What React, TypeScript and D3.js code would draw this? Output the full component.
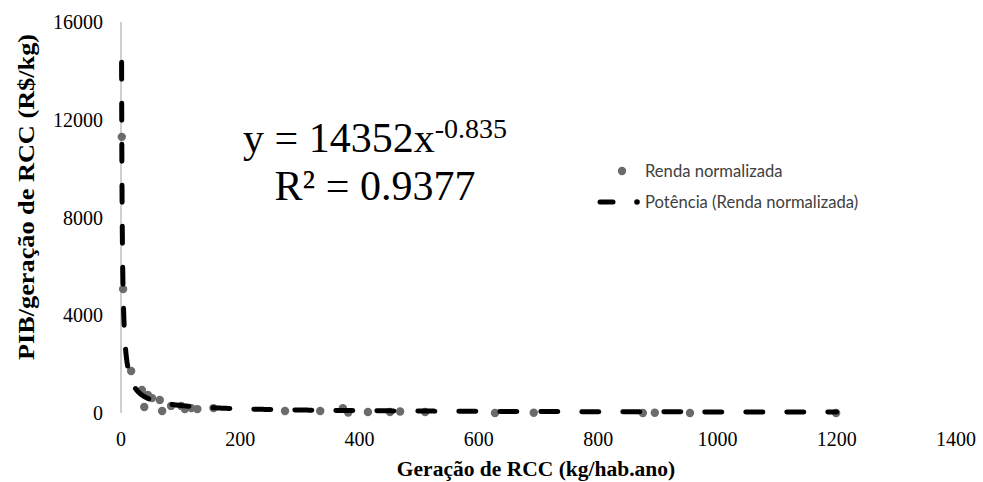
import React from "react";
import * as d3 from "d3";

const xTicks = [0, 200, 400, 600, 800, 1000, 1200, 1400];
const yTicks = [0, 4000, 8000, 12000, 16000];

const genX = [1.3, 3.5, 17, 35, 39, 45, 52, 65, 69, 84, 101, 107, 118, 128, 155, 275, 334, 372, 381, 414, 451, 468, 510, 627, 692, 875, 895, 954, 1199];
const renda = [11300, 5070, 1720, 940, 245, 740, 610, 530, 80, 290, 290, 160, 200, 160, 200, 80, 80, 200, 20, 40, 40, 60, 40, 0, 10, 0, 10, 0, 0];

const trendCoef = 14352;
const trendExp = -0.835;
const trendDomain = [1, 1200];

const W = 983;
const H = 482;

export default function App() {
  const x = d3.scaleLinear().domain([0, 1400]).range([121, 956]);
  const y = d3.scaleLinear().domain([0, 16000]).range([413, 22]);

  const logX = d3.scaleLog().domain([0, 1]);
  const lo = Math.log(trendDomain[0]);
  const hi = Math.log(trendDomain[1]);
  const samples = d3.range(0, 601).map((i) => {
    const xv = Math.exp(lo + (i / 600) * (hi - lo));
    return [xv, trendCoef * Math.pow(xv, trendExp)] as [number, number];
  });
  const line = d3
    .line<[number, number]>()
    .x((d) => x(d[0]))
    .y((d) => y(d[1]));

  const serif = "'Liberation Serif', 'Times New Roman', serif";
  const sans = "Lato, Carlito, Calibri, sans-serif";

  return (
    <svg
      width={W}
      height={H}
      viewBox={`0 0 ${W} ${H}`}
      style={{ position: "absolute", left: 0, top: 0, background: "#fff" }}
    >
      <rect x={0} y={0} width={W} height={H} fill="#fff" />
      <line x1={x(0)} x2={x(0)} y1={y(16000)} y2={y(0)} stroke="#bfbfbf" strokeWidth={1.5} />

      {yTicks.map((t) => (
        <text
          key={"y" + t}
          x={103}
          y={y(t)}
          dy="0.35em"
          textAnchor="end"
          fontFamily={serif}
          fontSize={20}
          fill="#000"
        >
          {t}
        </text>
      ))}

      {xTicks.map((t) => (
        <text
          key={"x" + t}
          x={x(t)}
          y={446}
          textAnchor="middle"
          fontFamily={serif}
          fontSize={20}
          fill="#000"
        >
          {t}
        </text>
      ))}

      <text
        x={536}
        y={476}
        textAnchor="middle"
        fontFamily={serif}
        fontWeight="bold"
        fontSize={21.5}
        fill="#000"
      >
        Geração de RCC (kg/hab.ano)
      </text>
      <text
        transform={`translate(34,197) rotate(-90)`}
        textAnchor="middle"
        fontFamily={serif}
        fontWeight="bold"
        fontSize={23}
        textLength={326}
        lengthAdjust="spacingAndGlyphs"
        fill="#000"
      >
        PIB/geração de RCC (R$/kg)
      </text>

      {genX.map((gx, i) => (
        <circle key={"p" + i} cx={x(gx)} cy={y(renda[i])} r={4.2} fill="#6b6b6b" />
      ))}

      <path
        d={line(samples) || ""}
        fill="none"
        stroke="#000"
        strokeWidth={5}
        strokeDasharray="17 24"
        strokeLinecap="round"
      />

      <text x={375} y={152} textAnchor="middle" fontFamily={serif} fontSize={42} fill="#000">
        y = 14352x
        <tspan fontSize={28} dy={-14}>-0.835</tspan>
      </text>
      <text x={375} y={200} textAnchor="middle" fontFamily={serif} fontSize={42} fill="#000">
        R² = 0.9377
      </text>

      <circle cx={622} cy={171} r={4.2} fill="#6b6b6b" />
      <text x={645} y={171} dy="0.35em" fontFamily={sans} fontSize={16.6} fill="#404040">
        Renda normalizada
      </text>
      <line x1={600} x2={613} y1={202} y2={202} stroke="#000" strokeWidth={5} strokeLinecap="round" />
      <circle cx={637} cy={202} r={2.8} fill="#000" />
      <text x={645} y={202} dy="0.35em" fontFamily={sans} fontSize={16.6} fill="#404040">
        Potência (Renda normalizada)
      </text>
    </svg>
  );
}
